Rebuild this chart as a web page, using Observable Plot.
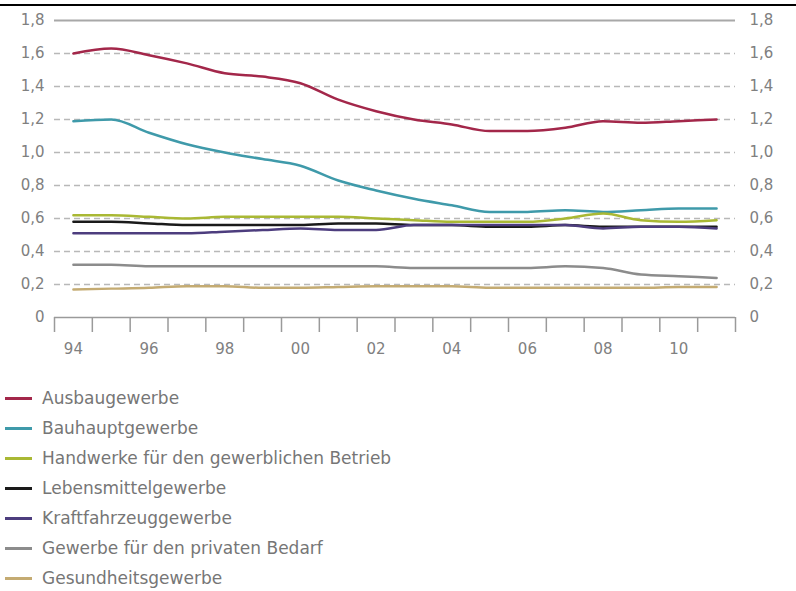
<!DOCTYPE html>
<html>
<head>
<meta charset="utf-8">
<script src="https://cdn.jsdelivr.net/npm/d3@7"></script>
<script src="https://cdn.jsdelivr.net/npm/@observablehq/plot@0.6"></script>
<style>
  html, body { margin: 0; padding: 0; background: #fff; width: 796px; height: 591px; overflow: hidden; }
  #topline { position: absolute; left: 0; top: 4px; width: 796px; height: 2px; background: #000; }
  #chart { position: absolute; left: 0; top: 0; }
  #legend { position: absolute; left: 0; top: 383px; font-family: "DejaVu Sans", sans-serif; font-size: 17px; color: #767676; }
  .item { position: relative; height: 30px; line-height: 30px; }
  .sw { position: absolute; left: 5px; top: 14px; width: 27px; height: 3px; }
  .lbl { position: absolute; left: 42px; top: 0; white-space: nowrap; }
</style>
</head>
<body>
<div id="chart"></div>
<div id="topline"></div>
<div id="legend"></div>
<script>
const years = [1994,1995,1996,1997,1998,1999,2000,2001,2002,2003,2004,2005,2006,2007,2008,2009,2010,2011];
const seriesNames = [
  "Ausbaugewerbe",
  "Bauhauptgewerbe",
  "Handwerke für den gewerblichen Betrieb",
  "Lebensmittelgewerbe",
  "Kraftfahrzeuggewerbe",
  "Gewerbe für den privaten Bedarf",
  "Gesundheitsgewerbe"
];
const seriesColors = ["#a3274a", "#3f9aaa", "#a9b834", "#1a1a1a", "#4d3d7e", "#8c8c8c", "#c4ab72"];
const ausbau      = [1.60,1.63,1.59,1.54,1.48,1.46,1.42,1.32,1.25,1.20,1.17,1.13,1.13,1.15,1.19,1.18,1.19,1.20];
const bauhaupt    = [1.19,1.20,1.12,1.05,1.00,0.96,0.92,0.83,0.77,0.72,0.68,0.64,0.64,0.65,0.64,0.65,0.66,0.66];
const handwerke   = [0.62,0.62,0.61,0.60,0.61,0.61,0.61,0.61,0.60,0.59,0.58,0.58,0.58,0.60,0.63,0.59,0.58,0.59];
const lebensmittel= [0.58,0.58,0.57,0.56,0.56,0.56,0.56,0.57,0.57,0.56,0.56,0.55,0.55,0.56,0.55,0.55,0.55,0.55];
const kfz         = [0.51,0.51,0.51,0.51,0.52,0.53,0.54,0.53,0.53,0.56,0.56,0.56,0.56,0.56,0.54,0.55,0.55,0.54];
const privat      = [0.32,0.32,0.31,0.31,0.31,0.31,0.31,0.31,0.31,0.30,0.30,0.30,0.30,0.31,0.30,0.26,0.25,0.24];
const gesundheit  = [0.17,0.175,0.18,0.19,0.19,0.18,0.18,0.185,0.19,0.19,0.19,0.18,0.18,0.18,0.18,0.18,0.185,0.185];
const seriesValues = [ausbau, bauhaupt, handwerke, lebensmittel, kfz, privat, gesundheit];
const yTicks = [0,0.2,0.4,0.6,0.8,1.0,1.2,1.4,1.6,1.8];
const xLabelYears = [1994,1996,1998,2000,2002,2004,2006,2008,2010];
const xTickEdges = [1993.5].concat(years.map(y => y + 0.5));

const data = seriesNames.flatMap((name, i) => years.map((yr, j) => ({series: name, year: yr, value: seriesValues[i][j]})));
const fmt = d => d === 0 ? "0" : d.toFixed(1).replace(".", ",");

const chart = Plot.plot({
  width: 796,
  height: 370,
  marginLeft: 54,
  marginRight: 61,
  marginTop: 20,
  marginBottom: 53,
  x: {domain: [1993.5, 2011.5]},
  y: {domain: [0, 1.8]},
  color: {domain: seriesNames, range: seriesColors},
  style: {fontFamily: "DejaVu Sans, sans-serif", fontSize: "15px", color: "#808080", background: "transparent"},
  marks: [
    Plot.gridY(yTicks.filter(d => d > 0 && d < 1.8), {stroke: "#b8b8b8", strokeOpacity: 1, strokeWidth: 1.5, strokeDasharray: "6,4"}),
    Plot.gridY([1.8], {stroke: "#a8a8a8", strokeOpacity: 1, strokeWidth: 2}),
    Plot.ruleY([0], {stroke: "#9a9a9a", strokeWidth: 1.5}),
    Plot.axisX({ticks: xTickEdges, tickSize: 15, tickFormat: () => "", stroke: "#9a9a9a", strokeWidth: 1.5, label: null}),
    Plot.axisX({ticks: xLabelYears, tickSize: 0, tickPadding: 26, tickFormat: d => String(d).slice(2), label: null, fill: "#808080"}),
    Plot.axisY({ticks: yTicks, tickSize: 0, tickPadding: 10, tickFormat: fmt, label: null, fill: "#808080"}),
    Plot.axisY({anchor: "right", ticks: yTicks, tickSize: 0, tickPadding: 14, tickFormat: fmt, label: null, fill: "#808080"}),
    Plot.line(data, {x: "year", y: "value", z: "series", stroke: "series", curve: "monotone-x", strokeWidth: 2.5})
  ]
});
document.getElementById("chart").appendChild(chart);

const legend = document.getElementById("legend");
seriesNames.forEach((name, i) => {
  const item = document.createElement("div");
  item.className = "item";
  const sw = document.createElement("div");
  sw.className = "sw";
  sw.style.background = seriesColors[i];
  const lbl = document.createElement("div");
  lbl.className = "lbl";
  lbl.textContent = name;
  item.appendChild(sw);
  item.appendChild(lbl);
  legend.appendChild(item);
});
</script>
</body>
</html>
